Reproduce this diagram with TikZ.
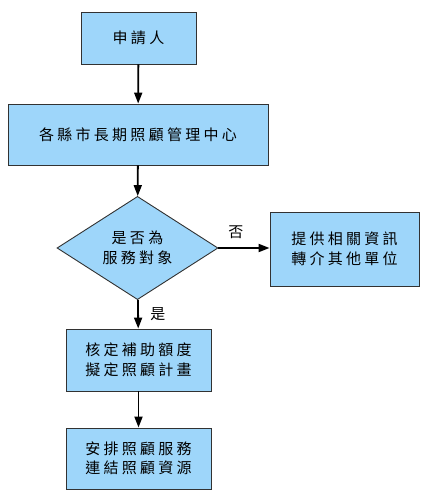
\documentclass[tikz,border=0pt]{standalone}
\usepackage{fontspec}
\newfontfamily\cjk[LetterSpace=22]{Noto Sans CJK TC}
\usetikzlibrary{shapes.geometric,arrows.meta}
\definecolor{boxblue}{RGB}{158,214,250}
\definecolor{edgegray}{RGB}{50,50,50}
\begin{document}
\begin{tikzpicture}[x=1pt, y=-1pt,
    box/.style={draw=edgegray, fill=boxblue, line width=0.9pt, inner sep=0pt,
      align=center, font=\cjk\fontsize{15}{19.5}\selectfont},
    decision/.style={diamond, draw=edgegray, fill=boxblue, line width=0.9pt, inner sep=0pt,
      align=center, font=\cjk\fontsize{15}{19.5}\selectfont},
    flow/.style={line width=1.8pt, -{Triangle[length=11pt,width=8pt]}},
    tag/.style={font=\cjk\fontsize{15}{19.5}\selectfont}]
  \useasboundingbox (0,0) rectangle (430,500);
  \node[box, minimum width=115pt, minimum height=52pt] (apply) at (138.5,38) {申請人};
  \node[box, minimum width=260pt, minimum height=61pt] (center) at (138,134.5) {各縣市長期照顧管理中心};
  \node[decision, minimum width=161pt, minimum height=87pt] (check) at (137.5,248) {是否為\\服務對象};
  \node[box, minimum width=149pt, minimum height=74pt] (info) at (344.5,249) {提供相關資訊\\轉介其他單位};
  \node[box, minimum width=145pt, minimum height=62pt] (plan) at (138.5,360) {核定補助額度\\擬定照顧計畫};
  \node[box, minimum width=145pt, minimum height=61pt] (care) at (138.5,458.5) {安排照顧服務\\連結照顧資源};
  \draw[flow] (apply) -- (center);
  \draw[flow] (center) -- (check);
  \draw[flow] (check.east) -- (check.east -| info.west) node[tag, pos=0.34, above=5pt] (no) {否};
  \draw[flow] (check) -- (plan) node[tag, midway, right=8pt] (yes) {是};
  \draw[flow] (plan) -- (care);
\end{tikzpicture}
\end{document}
